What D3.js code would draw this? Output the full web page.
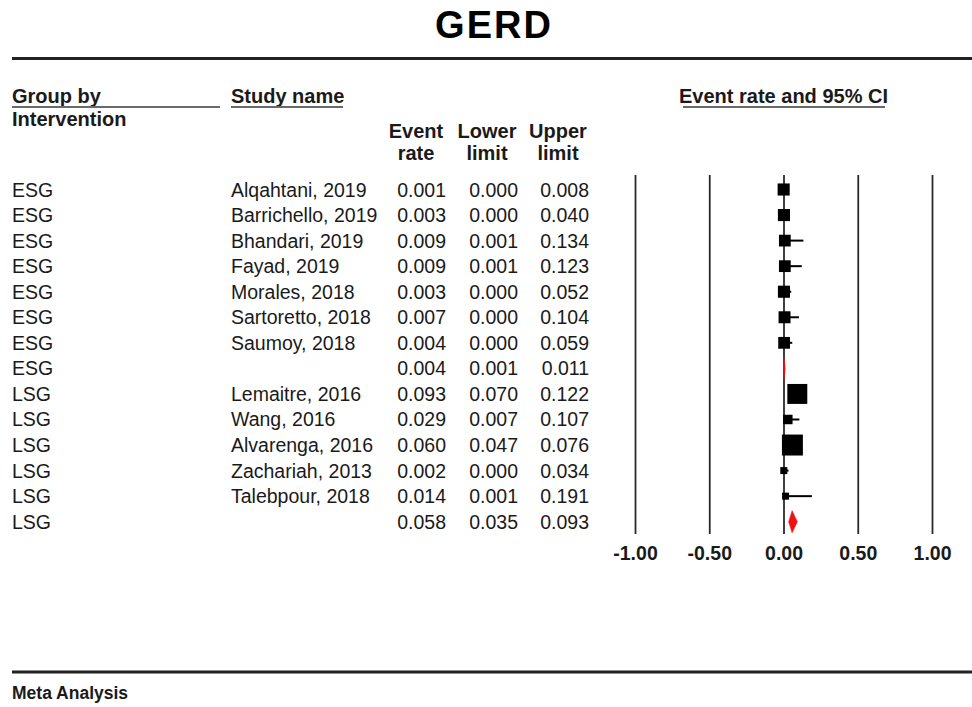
<!DOCTYPE html>
<html>
<head>
<meta charset="utf-8">
<script src="https://cdn.jsdelivr.net/npm/d3@7"></script>
<style>
  body { margin: 0; background: #fff; }
  svg { display: block; font-family: "Liberation Sans", Arial, sans-serif; }
</style>
</head>
<body>
<div id="chart"></div>
<script>
// ---- data ----
const groupNames = ["ESG", "ESG", "ESG", "ESG", "ESG", "ESG", "ESG", "ESG",
                    "LSG", "LSG", "LSG", "LSG", "LSG", "LSG"];
const studyNames = ["Alqahtani, 2019", "Barrichello, 2019", "Bhandari, 2019", "Fayad, 2019",
                    "Morales, 2018", "Sartoretto, 2018", "Saumoy, 2018", "",
                    "Lemaitre, 2016", "Wang, 2016", "Alvarenga, 2016", "Zachariah, 2013",
                    "Talebpour, 2018", ""];
const eventRate = [0.001, 0.003, 0.009, 0.009, 0.003, 0.007, 0.004, 0.004,
                   0.093, 0.029, 0.060, 0.002, 0.014, 0.058];
const lowerLimit = [0.000, 0.000, 0.001, 0.001, 0.000, 0.000, 0.000, 0.001,
                    0.070, 0.007, 0.047, 0.000, 0.001, 0.035];
const upperLimit = [0.008, 0.040, 0.134, 0.123, 0.052, 0.104, 0.059, 0.011,
                    0.122, 0.107, 0.076, 0.034, 0.191, 0.093];
// relative weight (%) inside each subgroup, 0 = subgroup summary (diamond)
const weights = [14.3, 14.3, 13.5, 13.5, 14.3, 14, 13.5, 0,
                 38.9, 8.8, 42.9, 4.8, 4.8, 0];
const axisTicks = [-1, -0.5, 0, 0.5, 1];

const W = 972, H = 707;
const svg = d3.select("#chart").append("svg")
  .attr("width", W)
  .attr("height", H);

const ink = "#1a1a1a";
const fmt = d3.format(".3f");
// plain hyphen for negatives, like the original software
const tickFmt = d3.formatLocale({decimal: ".", thousands: ",", grouping: [3], currency: ["", ""], minus: "-"}).format(".2f");

// scales
const x = d3.scaleLinear().domain([-1, 1]).range([635, 932]);
const y = d3.scalePoint().domain(d3.range(studyNames.length)).range([189.5, 521.7]);
const boxSize = d3.scaleSqrt().domain([0, 100]).range([0, 32]);

// ---- title + rules ----
svg.append("text")
  .attr("x", 494).attr("y", 38)
  .attr("text-anchor", "middle")
  .style("font-size", "38px").style("font-weight", "bold")
  .style("letter-spacing", "2px")
  .attr("fill", "#000")
  .text("GERD");

svg.append("line")
  .attr("x1", 12).attr("x2", W).attr("y1", 58.5).attr("y2", 58.5)
  .attr("stroke", "#222").attr("stroke-width", 3);

svg.append("line")
  .attr("x1", 12).attr("x2", W).attr("y1", 672).attr("y2", 672)
  .attr("stroke", "#222").attr("stroke-width", 3);

svg.append("text")
  .attr("x", 12).attr("y", 699)
  .style("font-size", "17.5px").style("font-weight", "bold")
  .attr("fill", ink)
  .text("Meta Analysis");

// ---- column headers ----
const headBold = (sel) => sel.style("font-size", "20px").style("font-weight", "bold").attr("fill", ink);

svg.append("text").attr("x", 12).attr("y", 103).call(headBold).text("Group by");
svg.append("text").attr("x", 12).attr("y", 126).call(headBold).text("Intervention");
svg.append("text").attr("x", 231).attr("y", 103).call(headBold).text("Study name");
svg.append("text").attr("x", x(0)).attr("y", 103).attr("text-anchor", "middle")
  .call(headBold).text("Event rate and 95% CI");

const underline = (x1, x2) => svg.append("line")
  .attr("x1", x1).attr("x2", x2).attr("y1", 107).attr("y2", 107)
  .attr("stroke", "#6a6a6a").attr("stroke-width", 2);
underline(12, 220);
underline(231, 343);
underline(683, 885);

const valueCols = [446, 518, 589];
const headCols = [416, 487, 558];
[["Event", "rate"], ["Lower", "limit"], ["Upper", "limit"]].forEach((h, i) => {
  svg.append("text").attr("x", headCols[i]).attr("y", 138).attr("text-anchor", "middle")
    .call(headBold).text(h[0]);
  svg.append("text").attr("x", headCols[i]).attr("y", 160).attr("text-anchor", "middle")
    .call(headBold).text(h[1]);
});

// ---- grid lines / axis ----
const gridTop = 175, gridBottom = 534;
const axis = svg.append("g")
  .attr("transform", `translate(0,${gridBottom})`)
  .call(d3.axisBottom(x).tickValues(axisTicks).tickFormat(tickFmt)
    .tickSizeInner(-(gridBottom - gridTop)).tickSizeOuter(0).tickPadding(12));
axis.select(".domain").remove();
axis.selectAll("line").attr("stroke", "#2a2a2a").attr("stroke-width", 1.8);
axis.selectAll("text")
  .attr("fill", ink)
  .style("font-size", "19.5px").style("font-weight", "bold")
  .style("font-family", "\"Liberation Sans\", Arial, sans-serif");

// ---- table rows ----
studyNames.forEach((name, i) => {
  const yy = y(i) + 7;
  const row = svg.append("g").style("font-size", "19.5px").attr("fill", ink);
  row.append("text").attr("x", 12).attr("y", yy).text(groupNames[i]);
  row.append("text").attr("x", 231).attr("y", yy).text(name);
  [eventRate[i], lowerLimit[i], upperLimit[i]].forEach((v, j) => {
    row.append("text").attr("x", valueCols[j]).attr("y", yy)
      .attr("text-anchor", "end").text(fmt(v));
  });
});

// ---- forest marks ----
studyNames.forEach((name, i) => {
  const yc = y(i);
  if (weights[i] > 0) {
    svg.append("line")
      .attr("x1", x(lowerLimit[i])).attr("x2", x(upperLimit[i]))
      .attr("y1", yc).attr("y2", yc)
      .attr("stroke", "#000").attr("stroke-width", 2);
    const s = boxSize(weights[i]);
    svg.append("rect")
      .attr("x", x(eventRate[i]) - s / 2).attr("y", yc - s / 2)
      .attr("width", s).attr("height", s)
      .attr("fill", "#000");
  } else {
    const h = 11;
    const pts = [[x(lowerLimit[i]), yc], [x(eventRate[i]), yc - h],
                 [x(upperLimit[i]), yc], [x(eventRate[i]), yc + h]];
    svg.append("polygon")
      .attr("points", pts.map(p => p.join(",")).join(" "))
      .attr("fill", "#f01010").attr("stroke", "#f01010").attr("stroke-width", 0.6);
  }
});
</script>
</body>
</html>
